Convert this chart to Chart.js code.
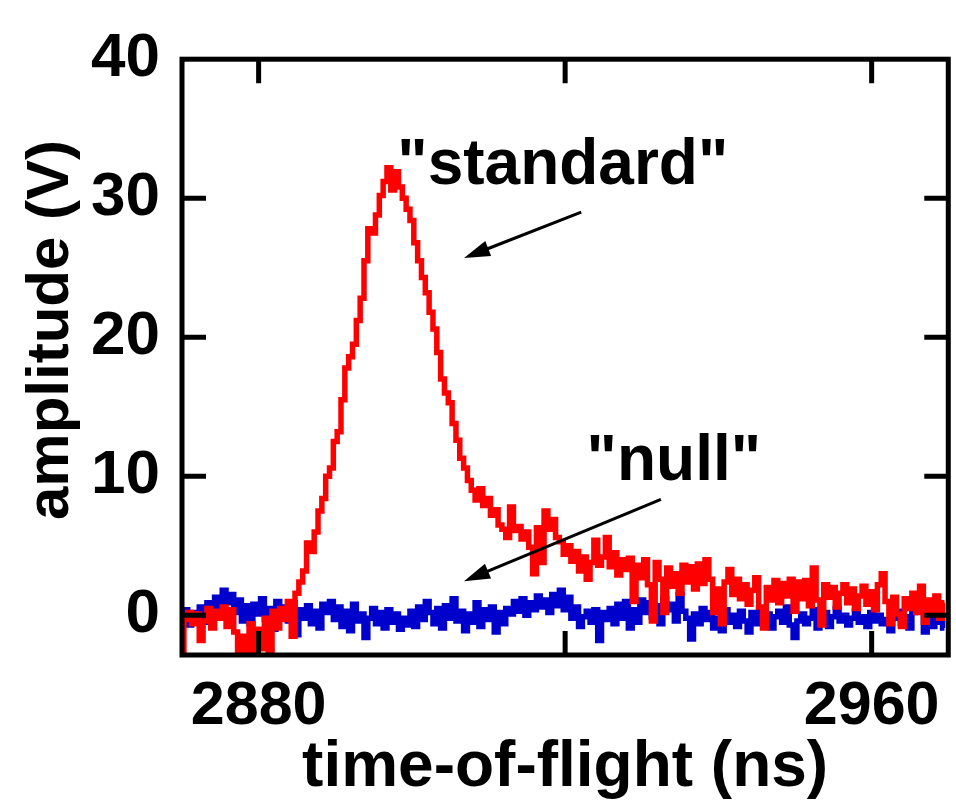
<!DOCTYPE html>
<html>
<head>
<meta charset="utf-8">
<script src="https://cdn.jsdelivr.net/npm/chart.js@4.4.1/dist/chart.umd.min.js"></script>
<style>
html,body{margin:0;padding:0;background:#fff;}
#wrap{width:956px;height:804px;position:relative;}
</style>
</head>
<body>
<div id="wrap"><canvas id="c" width="956" height="804"></canvas></div>
<script>
// sample times (ns)
const timeNs = [
2870,2870.5,2871,2871.5,2872,2872.5,2873,2873.5,2874,2874.5,
2875,2875.5,2876,2876.5,2877,2877.5,2878,2878.5,2879,2879.5,
2880,2880.5,2881,2881.5,2882,2882.5,2883,2883.5,2884,2884.5,
2885,2885.5,2886,2886.5,2887,2887.5,2888,2888.5,2889,2889.5,
2890,2890.5,2891,2891.5,2892,2892.5,2893,2893.5,2894,2894.5,
2895,2895.5,2896,2896.5,2897,2897.5,2898,2898.5,2899,2899.5,
2900,2900.5,2901,2901.5,2902,2902.5,2903,2903.5,2904,2904.5,
2905,2905.5,2906,2906.5,2907,2907.5,2908,2908.5,2909,2909.5,
2910,2910.5,2911,2911.5,2912,2912.5,2913,2913.5,2914,2914.5,
2915,2915.5,2916,2916.5,2917,2917.5,2918,2918.5,2919,2919.5,
2920,2920.5,2921,2921.5,2922,2922.5,2923,2923.5,2924,2924.5,
2925,2925.5,2926,2926.5,2927,2927.5,2928,2928.5,2929,2929.5,
2930,2930.5,2931,2931.5,2932,2932.5,2933,2933.5,2934,2934.5,
2935,2935.5,2936,2936.5,2937,2937.5,2938,2938.5,2939,2939.5,
2940,2940.5,2941,2941.5,2942,2942.5,2943,2943.5,2944,2944.5,
2945,2945.5,2946,2946.5,2947,2947.5,2948,2948.5,2949,2949.5,
2950,2950.5,2951,2951.5,2952,2952.5,2953,2953.5,2954,2954.5,
2955,2955.5,2956,2956.5,2957,2957.5,2958,2958.5,2959,2959.5,
2960,2960.5,2961,2961.5,2962,2962.5,2963,2963.5,2964,2964.5,
2965,2965.5,2966,2966.5,2967,2967.5,2968,2968.5,2969,2969.5
];
// "standard" trace amplitude (V)
const standardV = [
-2.5,-0.3,0.2,-0.6,0.1,-1.8,-0.4,0.5,-0.9,0.3,
-0.2,0.6,-0.8,0.4,-1.2,-2.8,-1.5,-2.9,-0.6,-2.7,
-1.0,-2.4,-0.2,-2.8,0.3,-0.9,0.5,-0.3,1.0,-1.5,
1.6,2.4,3.2,5.2,4.6,6.0,7.5,8.4,10.0,10.6,
12.5,13.2,15.5,17.8,18.6,19.5,21.2,22.8,25.5,27.8,
27.5,28.8,30.2,31.2,32.2,30.6,31.9,30.8,30.0,29.2,
28.4,26.8,25.5,24.3,23.2,21.8,20.6,18.9,17.0,16.0,
15.3,13.8,12.6,11.3,10.6,9.7,9.0,8.3,9.1,7.9,
8.4,7.2,7.6,6.5,6.2,5.6,7.8,6.1,6.4,5.5,
6.0,4.9,3.0,6.3,3.8,7.5,6.2,6.9,5.6,5.3,
4.4,5.0,3.9,4.6,3.2,4.2,2.6,3.8,5.4,3.6,
4.2,5.6,3.5,4.5,2.9,4.0,3.3,4.1,1.0,3.6,
2.7,4.0,2.2,-0.4,3.8,2.6,0.2,3.4,2.1,3.0,
1.6,3.6,2.4,3.5,1.9,3.7,2.3,4.0,2.6,0.2,
1.9,-0.6,2.4,3.3,1.5,2.6,1.2,2.2,0.8,1.8,
2.7,0.6,-0.9,2.0,1.1,2.5,0.9,2.3,1.4,2.6,
0.3,2.4,1.2,2.5,0.7,3.4,1.1,-0.7,2.2,1.3,
2.0,0.6,1.6,2.2,0.9,1.9,0.5,1.4,2.1,0.8,
1.7,0.4,2.2,3.0,1.0,-0.6,1.3,0.1,-0.8,1.2,
0.5,1.6,0.2,2.1,-0.5,1.1,0.3,1.4,-0.2,0.9
];
// "null" trace amplitude (V)
const nullV = [
-0.2,0.4,-0.7,0.2,-0.3,0.6,-0.5,0.9,0.1,1.3,
0.6,1.8,0.9,1.5,0.2,1.1,-0.4,0.7,-0.6,0.8,
0.1,1.2,-0.3,0.5,-1.0,1.0,0.0,0.6,-0.4,0.9,
-1.4,0.4,-0.2,0.7,-0.6,0.3,-0.9,0.8,0.2,1.0,
-0.3,0.6,-0.8,0.3,-1.1,0.8,-0.4,0.1,-1.6,-0.2,
0.5,-0.6,0.2,-0.9,0.4,-0.5,0.1,-1.0,-0.2,-0.7,
0.3,-0.8,0.6,-0.3,1.0,0.2,-0.6,0.5,-0.9,0.7,
-0.2,1.2,-0.4,0.3,-1.1,0.1,-0.5,0.9,-0.8,0.4,
-0.3,0.6,-1.2,0.2,-0.6,0.5,0.1,1.0,0.3,1.2,
0.0,0.9,0.4,1.4,0.6,1.1,0.2,1.5,0.7,1.8,
0.4,1.3,-0.2,0.6,-0.8,-0.1,0.3,-0.5,0.4,-1.8,
0.2,-0.3,0.5,-0.6,0.8,-0.2,1.0,-0.9,0.4,-0.5,
1.1,0.2,0.9,-0.1,0.7,-0.6,1.2,0.4,0.8,-0.4,
1.5,0.3,-0.2,-1.7,0.1,-0.6,0.5,-0.3,0.2,-0.9,
-0.2,-1.1,0.4,-0.5,0.0,-0.8,0.3,-0.4,-1.2,0.2,
-0.6,0.5,-0.3,0.1,-0.9,-0.1,0.3,-0.5,0.6,-0.7,
-1.6,-0.4,0.1,-0.6,-0.2,0.4,-0.9,-0.3,0.2,-0.8,
-0.1,0.5,-0.4,0.0,-0.7,-0.2,0.3,-0.5,-0.1,-0.8,
0.2,-0.4,0.0,-0.6,-0.3,-1.1,-0.2,0.3,-0.6,-0.1,
-0.9,0.2,1.3,0.6,-1.2,-0.3,-0.8,0.1,-0.5,-0.9
];
const yTickValues = [0, 10, 20, 30, 40];
const xTickValues = [2880, 2920, 2960];
const xTickLabels = ['2880', '', '2960'];
const xTitle = 'time-of-flight (ns)';
const yTitle = 'amplitude (V)';
const labelStandard = '"standard"';
const labelNull = '"null"';

const FONT = "'Liberation Sans', Arial, Helvetica, sans-serif";

const framePlugin = {
  id: 'frameAndNotes',
  afterDatasetsDraw(chart) {
    const ctx = chart.ctx, a = chart.chartArea, xs = chart.scales.x, ys = chart.scales.y;
    ctx.save();
    ctx.strokeStyle = '#000';
    ctx.lineWidth = 5;
    ctx.strokeRect(a.left, a.top, a.right - a.left, a.bottom - a.top);
    const tl = 24;
    ctx.beginPath();
    xTickValues.forEach(v => {
      const px = xs.getPixelForValue(v);
      ctx.moveTo(px, a.bottom); ctx.lineTo(px, a.bottom - tl);
      ctx.moveTo(px, a.top); ctx.lineTo(px, a.top + tl);
    });
    yTickValues.forEach(v => {
      if (v >= ys.max || v <= ys.min) return;
      const py = ys.getPixelForValue(v);
      ctx.moveTo(a.left, py); ctx.lineTo(a.left + tl, py);
      ctx.moveTo(a.right, py); ctx.lineTo(a.right - tl, py);
    });
    ctx.stroke();

    // annotations
    ctx.fillStyle = '#000';
    ctx.font = 'bold 64px ' + FONT;
    ctx.textAlign = 'left';
    ctx.textBaseline = 'alphabetic';
    ctx.fillText(labelStandard, xs.getPixelForValue(2898.1), ys.getPixelForValue(31.0));
    ctx.fillText(labelNull, xs.getPixelForValue(2922.8), ys.getPixelForValue(9.76));

    function arrow(x0, y0, x1, y1) {
      const X0 = xs.getPixelForValue(x0), Y0 = ys.getPixelForValue(y0);
      const X1 = xs.getPixelForValue(x1), Y1 = ys.getPixelForValue(y1);
      const ang = Math.atan2(Y1 - Y0, X1 - X0);
      const hl = 26, hw = 8;
      const bx = X1 - hl * Math.cos(ang), by = Y1 - hl * Math.sin(ang);
      ctx.lineWidth = 3;
      ctx.beginPath(); ctx.moveTo(X0, Y0); ctx.lineTo(bx + 4 * Math.cos(ang), by + 4 * Math.sin(ang)); ctx.stroke();
      ctx.beginPath();
      ctx.moveTo(X1, Y1);
      ctx.lineTo(bx - hw * Math.sin(ang), by + hw * Math.cos(ang));
      ctx.lineTo(bx + hw * Math.sin(ang), by - hw * Math.cos(ang));
      ctx.closePath(); ctx.fill();
    }
    arrow(2922.1, 29.0, 2906.8, 25.7);
    arrow(2932.5, 8.34, 2906.8, 2.46);

    // axis titles
    ctx.font = 'bold 64px ' + FONT;
    ctx.textAlign = 'center';
    ctx.fillText(xTitle, (a.left + a.right) / 2, 786);
    ctx.save();
    ctx.translate(68, 330);
    ctx.rotate(-Math.PI / 2);
    ctx.font = 'bold 60px ' + FONT;
    ctx.fillText(yTitle, 0, 0);
    ctx.restore();
    ctx.restore();
  }
};

new Chart(document.getElementById('c').getContext('2d'), {
  type: 'line',
  data: {
    datasets: [
      {
        label: 'standard',
        data: timeNs.map((t, i) => ({ x: t, y: standardV[i] })),
        borderColor: '#ff0000', borderWidth: 5.5, pointRadius: 0,
        stepped: 'middle', fill: false
      },
      {
        label: 'null',
        data: timeNs.map((t, i) => ({ x: t, y: nullV[i] })),
        borderColor: '#0000cc', borderWidth: 5.5, pointRadius: 0,
        stepped: 'middle', fill: false
      }
    ]
  },
  options: {
    responsive: false,
    animation: false,
    devicePixelRatio: 1,
    layout: { padding: { top: 50, right: 5, left: 0, bottom: 0 } },
    plugins: { legend: { display: false }, tooltip: { enabled: false } },
    scales: {
      x: {
        type: 'linear', min: 2870, max: 2970,
        afterFit(s) { s.height = 149; },
        afterBuildTicks(s) { s.ticks = xTickValues.map(v => ({ value: v })); },
        ticks: {
          autoSkip: false, maxRotation: 0, padding: 16, color: '#000',
          font: { family: FONT, size: 61, weight: 'bold' },
          callback(v) { const i = xTickValues.indexOf(v); return i >= 0 ? xTickLabels[i] : ''; }
        },
        grid: { display: false, drawTicks: false },
        border: { display: false }
      },
      y: {
        type: 'linear', min: -2.85, max: 40,
        afterFit(s) { s.width = 182; },
        afterBuildTicks(s) { s.ticks = yTickValues.map(v => ({ value: v })); },
        ticks: {
          padding: 22, color: '#000',
          font: { family: FONT, size: 62, weight: 'bold' },
          callback(v) { return String(v); }
        },
        grid: { display: false, drawTicks: false },
        border: { display: false }
      }
    }
  },
  plugins: [framePlugin]
});
</script>
</body>
</html>
